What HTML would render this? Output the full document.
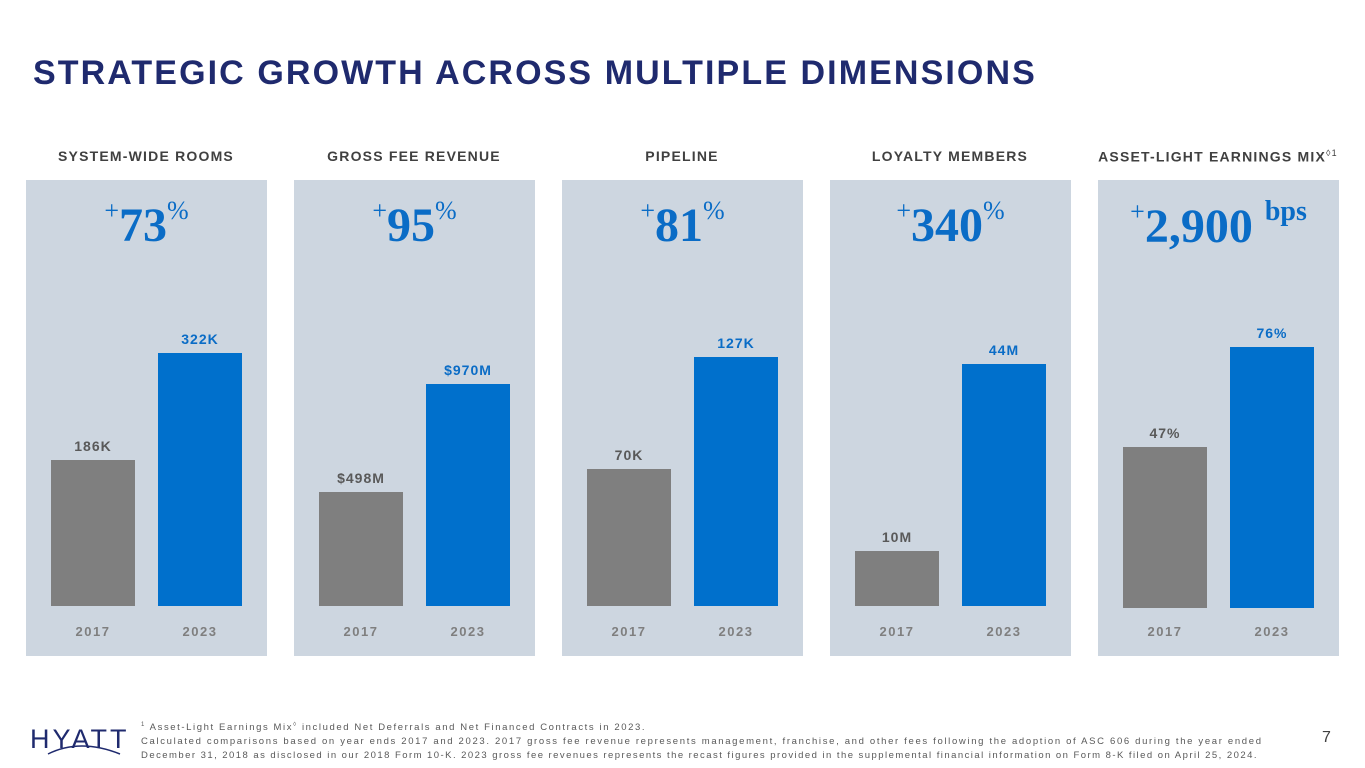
<!DOCTYPE html>
<html><head><meta charset="utf-8"><style>
body{margin:0;width:1365px;height:768px;background:#fff;font-family:"Liberation Sans",sans-serif;position:relative;overflow:hidden}
.abs{position:absolute}
#title{left:33px;top:54px;font-size:34px;font-weight:bold;color:#1f2a6e;letter-spacing:2.1px;white-space:nowrap}
.hdr{font-size:14px;font-weight:bold;color:#404040;letter-spacing:1.2px;text-align:center;width:260px;top:148px}
.panel{background:#cdd6e0;top:180px;width:241px;height:476px}
.big{font-family:"Liberation Serif",serif;font-weight:bold;color:#0a6cc6;font-size:48px;top:196px;text-align:center;width:241px;white-space:nowrap}
.big sup{font-size:26px;vertical-align:22px;font-weight:normal}
.big .p{font-size:28px;vertical-align:22px}
.lbl{font-size:14px;font-weight:bold;letter-spacing:1px;text-align:center;width:84px}
.yr{font-size:13px;font-weight:bold;color:#7f7f7f;letter-spacing:1.5px;text-align:center;width:84px;top:624px}
.foot{left:141px;font-size:9.5px;color:#595959;letter-spacing:1.6px;white-space:nowrap}
</style></head><body>
<div id="title" class="abs">STRATEGIC GROWTH ACROSS MULTIPLE DIMENSIONS</div>
<div id="root"></div>
<div class="abs" style="left:30px;top:724px;font-size:27px;color:#1f2a6e;letter-spacing:3px">HYATT</div>
<svg class="abs" style="left:30px;top:720px" width="100" height="40"><path d="M18 34 Q50 18 90 34" stroke="#1f2a6e" fill="none" stroke-width="1.5"/></svg>
<div class="abs foot" style="top:722px"><sup style="font-size:6px">1</sup> Asset-Light Earnings Mix<sup style="font-size:6px">◊</sup> included Net Deferrals and Net Financed Contracts in 2023.</div>
<div class="abs foot" style="top:736px;letter-spacing:1.67px">Calculated comparisons based on year ends 2017 and 2023. 2017 gross fee revenue represents management, franchise, and other fees following the adoption of ASC 606 during the year ended</div>
<div class="abs foot" style="top:750px;letter-spacing:1.46px">December 31, 2018 as disclosed in our 2018 Form 10-K. 2023 gross fee revenues represents the recast figures provided in the supplemental financial information on Form 8-K filed on April 25, 2024.</div>
<div class="abs" style="left:1322px;top:729px;font-size:16px;color:#404040">7</div>
<script>
const categories=["SYSTEM-WIDE ROOMS","GROSS FEE REVENUE","PIPELINE","LOYALTY MEMBERS","ASSET-LIGHT EARNINGS MIX"];
const values2017=[186,498,70,10,47];
const values2023=[322,970,127,44,76];
const labels2017=["186K","$498M","70K","10M","47%"];
const labels2023=["322K","$970M","127K","44M","76%"];
const growth=["73","95","81","340","2,900"];
const growthUnit=["%","%","%","%","bps"];
const years=["2017","2023"];
const root=document.getElementById('root');
const lefts=[26,294,562,830,1098];
const maxH=[253,222,249,242,261];
const bottoms=[606,606,606,606,608];
function mk(cls,name,style,html){const d=document.createElement('div');d.className='abs '+cls;


Object.assign(d.style,style);if(html!==undefined)d.innerHTML=html;root.appendChild(d);return d;}
categories.forEach((c,i)=>{
 const L=lefts[i];
 mk('hdr','panel-title-'+i,{left:(L-10)+'px'},c+(i==4?'<sup style="font-size:9px;font-weight:normal">◊1</sup>':''));
 mk('panel','panel-'+i,{left:L+'px'});
 const unit=growthUnit[i]=='%'?'<sup>%</sup>':' <span class="p">bps</span>';
 mk('big','growth-value-'+i,{left:L+'px'},'<sup>+</sup>'+growth[i]+unit);
 const mx=values2023[i];
 const sy=v=>v/mx*maxH[i];
 [[values2017,labels2017,'#7f7f7f','#595959',25],[values2023,labels2023,'#0070cc','#0a6cc6',132]].forEach((s,j)=>{
  const h=sy(s[0][i]);const x=L+s[4];const top=bottoms[i]-h;
  mk('','bar-'+years[j]+'-'+i,{left:x+'px',top:top+'px',width:'84px',height:h+'px',background:s[2]});
  mk('lbl','value-label-'+years[j]+'-'+i,{left:x+'px',top:(top-22)+'px',color:s[3]},s[1][i]);
  mk('yr','year-label-'+years[j]+'-'+i,{left:x+'px'},years[j]);
 });
});
</script>
</body></html>
